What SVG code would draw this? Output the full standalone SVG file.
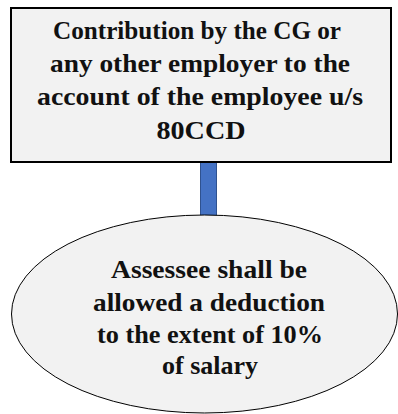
<svg xmlns="http://www.w3.org/2000/svg" width="398" height="414" viewBox="0 0 398 414">
  <style>
    .node { fill: #F2F2F2; stroke: #000; }
    .label { font-family: "Liberation Serif", "DejaVu Serif", serif; font-weight: bold; font-size: 26px; fill: #111; text-anchor: middle; }
    .link { fill: #4472C4; stroke: #2F528F; stroke-width: 1; }
  </style>
  <rect width="398" height="414" fill="#fff"/>
  <g id="connectors">
    <rect class="link" x="200.5" y="161" width="16" height="55"/>
  </g>
  <g id="source">
    <rect class="node" x="11" y="8" width="380" height="154" stroke-width="2"/>
    <text class="label" x="197" y="39" textLength="288" lengthAdjust="spacingAndGlyphs">Contribution by the CG or</text>
    <text class="label" x="200" y="72" textLength="300" lengthAdjust="spacingAndGlyphs">any other employer to the</text>
    <text class="label" x="200" y="105" textLength="326" lengthAdjust="spacingAndGlyphs">account of the employee u/s</text>
    <text class="label" x="201" y="139" textLength="89" lengthAdjust="spacingAndGlyphs">80CCD</text>
  </g>
  <g id="result">
    <ellipse class="node" cx="204.5" cy="314" rx="193" ry="99" stroke-width="1"/>
    <text class="label" x="209" y="278" textLength="196" lengthAdjust="spacingAndGlyphs">Assessee shall be</text>
    <text class="label" x="209" y="311" textLength="232" lengthAdjust="spacingAndGlyphs">allowed a deduction</text>
    <text class="label" x="210" y="343" textLength="226" lengthAdjust="spacingAndGlyphs">to the extent of 10%</text>
    <text class="label" x="210" y="374" textLength="96" lengthAdjust="spacingAndGlyphs">of salary</text>
  </g>
</svg>
